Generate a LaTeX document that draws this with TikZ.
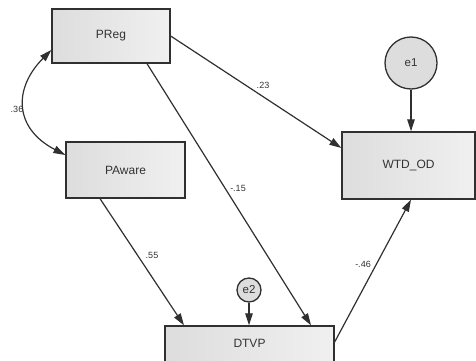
\documentclass[tikz,border=0pt]{standalone}
\usepackage{fontspec}
\setmainfont{Liberation Sans}
\usetikzlibrary{arrows.meta,calc}
\definecolor{edgec}{HTML}{303030}
\definecolor{boxdark}{HTML}{DDDDDD}
\definecolor{boxlight}{HTML}{F0F0F0}
\definecolor{txtc}{HTML}{333333}
\tikzset{
  varbox/.style={draw=edgec, line width=1.3pt, rectangle, left color=boxdark, right color=boxlight,
    inner sep=0pt, font=\fontsize{12}{14}\selectfont, text=txtc},
  errc/.style={draw=edgec, line width=1.3pt, circle, fill=boxdark, inner sep=0pt,
    font=\fontsize{11.5}{13}\selectfont, text=txtc},
  path/.style={draw=edgec, line width=1.2pt, -{Triangle[length=12pt,width=7.5pt]}},
  cov/.style={draw=edgec, line width=1.2pt, {Triangle[length=12pt,width=7.5pt]}-{Triangle[length=12pt,width=7.5pt]}},
  coef/.style={font=\fontsize{9}{10}\selectfont, text=txtc, inner sep=0pt}
}
\begin{document}
\begin{tikzpicture}[x=1pt,y=-1pt]
\useasboundingbox (0,0) rectangle (476,361);
\node[varbox, minimum width=118pt, minimum height=54pt] (P) at (111,36) {PReg};
\node[varbox, minimum width=119pt, minimum height=56pt] (A) at (125.5,170) {PAware};
\node[varbox, minimum width=133pt, minimum height=67pt] (W) at (408.5,165.5) {WTD\_OD};
\node[varbox, minimum width=169pt, minimum height=38pt, text depth=3pt] (D) at (249.5,345) {DTVP};
\node[errc, minimum size=52pt] (e1) at (411,63) {e1};
\node[errc, minimum size=24pt] (e2) at (249,290) {e2};

\draw[path] (e1) -- (e1 |- W.north);
\draw[path] (e2) -- (e2 |- D.north);
\draw[path] (P.east) -- ([yshift=17.5pt]W.west);
\draw[path] ([xshift=36pt]P.south) -- ([xshift=61.5pt]D.north);
\draw[path] ([xshift=-25.5pt]A.south) -- ([xshift=-65.5pt]D.north);
\draw[path] ([yshift=3pt]D.east) -- ([xshift=2.5pt]W.south);
\draw[cov] ([yshift=-14pt]P.west) .. controls (13.5,88) and (13.5,128) .. ([yshift=15pt]A.west);

\node[coef] (c23) at (263,85) {.23};
\node[coef] (c15) at (238,188) {-.15};
\node[coef] (c55) at (152,255) {.55};
\node[coef] (c46) at (363,264) {-.46};
\node[coef] (c36) at (17,109) {.36};
\end{tikzpicture}
\end{document}
